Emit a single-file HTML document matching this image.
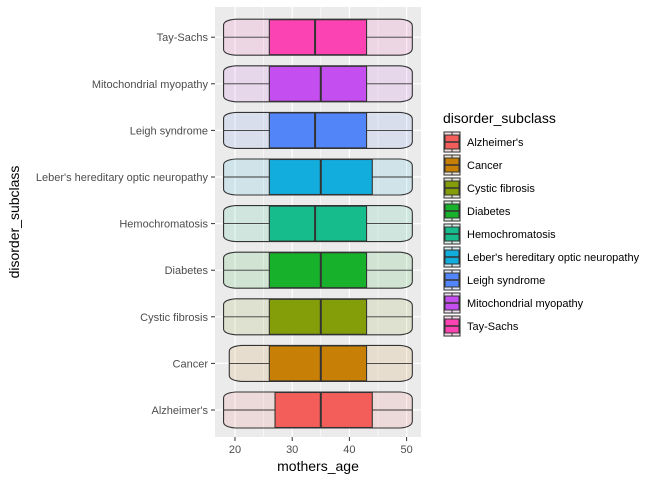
<!DOCTYPE html>
<html><head><meta charset="utf-8"><style>
body{margin:0;background:#fff;font-family:"Liberation Sans",sans-serif;}
</style></head><body>
<svg id="c" width="672" height="480" xmlns="http://www.w3.org/2000/svg"></svg>
<script>
const categories=["Alzheimer's","Cancer","Cystic fibrosis","Diabetes","Hemochromatosis","Leber's hereditary optic neuropathy","Leigh syndrome","Mitochondrial myopathy","Tay-Sachs"];
const colors=["#F35E5A","#C77F06","#849E0A","#17B12B","#16BC8C","#12ACDD","#5185F8","#C54EF0","#FC43B3"];
const mins=[18,19,18,18,18,18,18,18,18];
const q1s=[27,26,26,26,26,26,26,26,26];
const medians=[35,35,35,35,34,35,34,35,34];
const q3s=[44,43,43,43,43,44,43,43,43];
const maxs=[51,51,51,51,51,51,51,51,51];
const xTicks=[20,30,40,50];
const ns="http://www.w3.org/2000/svg";
const svg=document.getElementById('c');
const L=215,R=421,T=7,B=437;
const x=v=>235+(v-20)*5.72;
const y=i=>410-i*46.6;
function el(t,a,p){const e=document.createElementNS(ns,t);for(const k in a)e.setAttribute(k,a[k]);(p||svg).appendChild(e);return e;}
const panel=el('rect',{x:L,y:T,width:R-L,height:B-T,fill:'#EBEBEB'});


[25,35,45].forEach(v=>el('line',{x1:x(v),x2:x(v),y1:T,y2:B,stroke:'#fff','stroke-width':0.6}));
xTicks.forEach(v=>el('line',{x1:x(v),x2:x(v),y1:T,y2:B,stroke:'#fff','stroke-width':1.2}));
categories.forEach((c,i)=>el('line',{x1:L,x2:R,y1:y(i),y2:y(i),stroke:'#fff','stroke-width':1.2}));
categories.forEach((c,i)=>{
  const g=el('g',{});
  
  
  const cy=y(i),a=x(mins[i]),b=x(maxs[i]),h=18;
  const d=`M${a},${cy-h+6} Q${a},${cy-h+1} ${a+12},${cy-h} L${b-12},${cy-h} Q${b},${cy-h+1} ${b},${cy-h+7} L${b},${cy+h-7} Q${b},${cy+h-1} ${b-12},${cy+h} L${a+12},${cy+h} Q${a},${cy+h-1} ${a},${cy+h-6} Z`;
  el('path',{d,fill:colors[i],'fill-opacity':0.12,stroke:'#333','stroke-width':1.1},g);
  el('line',{x1:a,x2:x(q1s[i]),y1:cy,y2:cy,stroke:'#333','stroke-width':0.9},g);
  el('line',{x1:x(q3s[i]),x2:b,y1:cy,y2:cy,stroke:'#333','stroke-width':0.9},g);
  el('rect',{x:x(q1s[i]),y:cy-17.5,width:x(q3s[i])-x(q1s[i]),height:35,fill:colors[i],stroke:'#333','stroke-width':1.1},g);
  el('line',{x1:x(medians[i]),x2:x(medians[i]),y1:cy-17.5,y2:cy+17.5,stroke:'#333','stroke-width':2},g);
  el('line',{x1:L-4,x2:L,y1:cy,y2:cy,stroke:'#333','stroke-width':1},g);
  const t=el('text',{x:208,y:cy+4,'text-anchor':'end','font-size':11,fill:'#4D4D4D'});t.textContent=c;
  
  
});
xTicks.forEach(v=>{
  el('line',{x1:x(v),x2:x(v),y1:B,y2:B+4,stroke:'#333'});
  const t=el('text',{x:x(v),y:B+16,'text-anchor':'middle','font-size':11,fill:'#4D4D4D'});t.textContent=v;
  
  
});
const xt=el('text',{x:318,y:471,'text-anchor':'middle','font-size':14,fill:'#000'});xt.textContent='mothers_age';


const yt=el('text',{x:19,y:222,'text-anchor':'middle','font-size':14,fill:'#000',transform:'rotate(-90 19 222)'});yt.textContent='disorder_subclass';


const lt=el('text',{x:443,y:123,'font-size':14,fill:'#000'});lt.textContent='disorder_subclass';


categories.forEach((c,i)=>{
  const g=el('g',{});
  
  
  const ty=131+i*23;
  el('rect',{x:443,y:ty,width:18,height:22,fill:'#F2F2F2'},g);
  el('rect',{x:444,y:ty+1,width:16,height:20,fill:colors[i],'fill-opacity':0.12,stroke:'#333'},g);
  el('line',{x1:452,x2:452,y1:ty+1,y2:ty+4,stroke:'#333'},g);
  el('line',{x1:452,x2:452,y1:ty+18,y2:ty+21,stroke:'#333'},g);
  el('rect',{x:445,y:ty+4,width:14,height:14,fill:colors[i],stroke:'#333'},g);
  el('line',{x1:445,x2:459,y1:ty+11,y2:ty+11,stroke:'#333','stroke-width':1.5},g);
  const t=el('text',{x:467,y:ty+15,'font-size':11,fill:'#000'},g);t.textContent=c;
});
</script>
</body></html>
